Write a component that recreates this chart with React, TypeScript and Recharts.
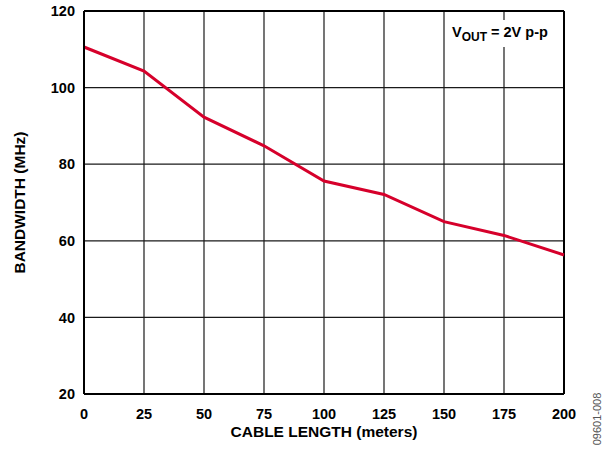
import React from "react";
import {
  LineChart,
  Line,
  XAxis,
  YAxis,
  CartesianGrid,
  ReferenceLine,
  Label,
} from "recharts";

const cableLength = [0, 25, 50, 75, 100, 125, 150, 175, 200];
const bandwidth = [110.6, 104.3, 92.3, 84.8, 75.6, 72.1, 65, 61.4, 56.3];
const xTicks = [0, 25, 50, 75, 100, 125, 150, 175, 200];
const yTicks = [20, 40, 60, 80, 100, 120];

const data = cableLength.map((x, i) => ({ x, bw: bandwidth[i] }));

const font = "'Liberation Sans', Arial, sans-serif";
const tickStyle = { fill: "#000", fontSize: 14.5, fontWeight: 700, fontFamily: font };
const labelStyle = { fill: "#000", fontSize: 15.5, fontWeight: 700, fontFamily: font };

export default function App() {
  return (
    <div style={{ position: "absolute", left: 0, top: 0, width: 615, height: 451, background: "#fff" }}>
      <LineChart
        width={615}
        height={451}
        data={data}
        margin={{ top: 11, right: 51, bottom: 0, left: 0 }}
      >
        <CartesianGrid stroke="#1a1a1a" strokeWidth={1.2} />
        <XAxis
          dataKey="x"
          type="number"
          domain={[0, 200]}
          ticks={xTicks}
          interval={0}
          height={57}
          tickLine={false}
          tickSize={0}
          tickMargin={15}
          axisLine={{ stroke: "#000", strokeWidth: 2 }}
          tick={tickStyle}
        >
          <Label
            value="CABLE LENGTH (meters)"
            position="insideBottom"
            offset={14}
            style={labelStyle}
          />
        </XAxis>
        <YAxis
          type="number"
          domain={[20, 120]}
          ticks={yTicks}
          interval={0}
          width={84}
          tickLine={false}
          tickSize={0}
          tickMargin={9}
          axisLine={{ stroke: "#000", strokeWidth: 2 }}
          tick={tickStyle}
        >
          <Label
            value="BANDWIDTH (MHz)"
            angle={-90}
            position="insideLeft"
            offset={19}
            style={{ ...labelStyle, textAnchor: "middle" }}
          />
        </YAxis>
        <ReferenceLine y={120} stroke="#000" strokeWidth={2} />
        <ReferenceLine x={200} stroke="#000" strokeWidth={2} />
        <Line
          dataKey="bw"
          stroke="#d6002b"
          strokeWidth={3}
          dot={false}
          isAnimationActive={false}
        />
      </LineChart>
      <div
        style={{
          position: "absolute",
          left: 449,
          top: 20,
          height: 27,
          background: "#fff",
          padding: "0 3px",
          fontFamily: font,
          fontWeight: 700,
          fontSize: 14.5,
          lineHeight: "24px",
          color: "#000",
          whiteSpace: "nowrap",
        }}
      >
        V<sub style={{ fontSize: 12, verticalAlign: "-4px", lineHeight: 0 }}>OUT</sub> = 2V p-p
      </div>
      <div
        style={{
          position: "absolute",
          left: 597,
          top: 419,
          transform: "translate(-50%, -50%) rotate(-90deg)",
          fontFamily: font,
          fontSize: 11,
          color: "#555",
          whiteSpace: "nowrap",
        }}
      >
        09601-008
      </div>
    </div>
  );
}
